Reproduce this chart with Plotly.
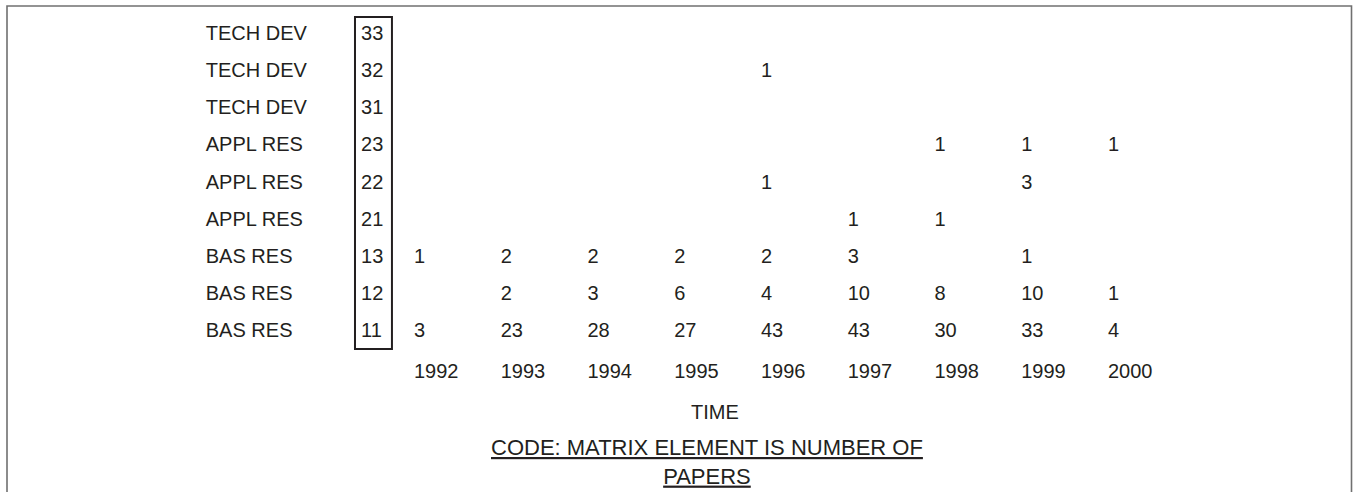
import plotly.graph_objects as go

# ---- data ----
years = [1992, 1993, 1994, 1995, 1996, 1997, 1998, 1999, 2000]
row_labels = ["BAS RES", "BAS RES", "BAS RES", "APPL RES", "APPL RES", "APPL RES",
              "TECH DEV", "TECH DEV", "TECH DEV"]
row_codes = ["11", "12", "13", "21", "22", "23", "31", "32", "33"]
# matrix values per row code (None = empty cell), columns = years
vals_11 = [3, 23, 28, 27, 43, 43, 30, 33, 4]
vals_12 = [None, 2, 3, 6, 4, 10, 8, 10, 1]
vals_13 = [1, 2, 2, 2, 2, 3, None, 1, None]
vals_21 = [None, None, None, None, None, 1, 1, None, None]
vals_22 = [None, None, None, None, 1, None, None, 3, None]
vals_23 = [None, None, None, None, None, None, 1, 1, 1]
vals_31 = [None] * 9
vals_32 = [None, None, None, None, 1, None, None, None, None]
vals_33 = [None] * 9
matrix = [vals_11, vals_12, vals_13, vals_21, vals_22, vals_23, vals_31, vals_32, vals_33]
x_title = "TIME"
note = "CODE: MATRIX ELEMENT IS NUMBER OF<br>PAPERS"

FONT = "Liberation Sans, Arial, sans-serif"
TXT = "#231f20"
FS = 20
NOTE_FS = 22

# layout constants (positions in axis units)
LABEL_X = 1989.60
CODE_X = 1991.39
BOX_X0, BOX_X1 = 1991.32, 1991.746
BOX_Y0, BOX_Y1 = -0.458, 8.485
YEAR_ROW = -1.104
TITLE_ROW = -2.155
NOTE_ROW = -3.50
TITLE_X = 1995.47
NOTE_X = 1995.38

fig = go.Figure()

# matrix values
xs, ys, ts = [], [], []
for r, row in enumerate(matrix):
    for c, v in enumerate(row):
        if v is not None:
            xs.append(years[c]); ys.append(r); ts.append(str(v))
fig.add_trace(go.Scatter(x=xs, y=ys, text=ts, mode="text", textposition="middle right",
                         textfont=dict(family=FONT, size=FS, color=TXT),
                         hoverinfo="skip", showlegend=False))

# year labels
fig.add_trace(go.Scatter(x=years, y=[YEAR_ROW] * len(years), text=[str(y) for y in years],
                         mode="text", textposition="middle right",
                         textfont=dict(family=FONT, size=FS, color=TXT),
                         hoverinfo="skip", showlegend=False))

# row labels
rows = list(range(len(row_labels)))
fig.add_trace(go.Scatter(x=[LABEL_X] * len(rows), y=rows, text=row_labels,
                         mode="text", textposition="middle right",
                         textfont=dict(family=FONT, size=FS, color=TXT),
                         hoverinfo="skip", showlegend=False))
# row codes
fig.add_trace(go.Scatter(x=[CODE_X] * len(rows), y=rows, text=row_codes,
                         mode="text", textposition="middle right",
                         textfont=dict(family=FONT, size=FS, color=TXT),
                         hoverinfo="skip", showlegend=False))

# box around codes
fig.add_shape(type="rect", xref="x", yref="y", x0=BOX_X0, x1=BOX_X1, y0=BOX_Y0, y1=BOX_Y1,
              line=dict(color="#231f20", width=2), fillcolor="rgba(0,0,0,0)")

# axis title text and note
fig.add_annotation(x=TITLE_X, y=TITLE_ROW, xref="x", yref="y", text=x_title, showarrow=False,
                   font=dict(family=FONT, size=FS, color=TXT), xanchor="center", yanchor="middle")
fig.add_annotation(x=NOTE_X, y=NOTE_ROW, xref="x", yref="y",
                   text="<u>" + note.replace("<br>", "</u><br><u>") + "</u>", showarrow=False,
                   font=dict(family=FONT, size=NOTE_FS, color=TXT), xanchor="center",
                   yanchor="middle", align="center")

# outer frame (bottom edge runs off the page)
fig.add_shape(type="rect", xref="paper", yref="paper", x0=7 / 1353, x1=1351.5 / 1353,
              y0=-0.2, y1=1 - 6 / 492, line=dict(color="#707070", width=1.6),
              fillcolor="rgba(0,0,0,0)", layer="below")

fig.update_xaxes(range=[1987.228, 2002.824], visible=False, fixedrange=True)
fig.update_yaxes(range=[-4.310, 8.943], visible=False, fixedrange=True)
fig.update_layout(width=1353, height=492, margin=dict(l=0, r=0, t=0, b=0),
                  paper_bgcolor="white", plot_bgcolor="white")

fig.write_html("out.html", config={"displayModeBar": False},
               post_script="document.body.style.margin='0px';document.body.style.overflow='hidden';")
